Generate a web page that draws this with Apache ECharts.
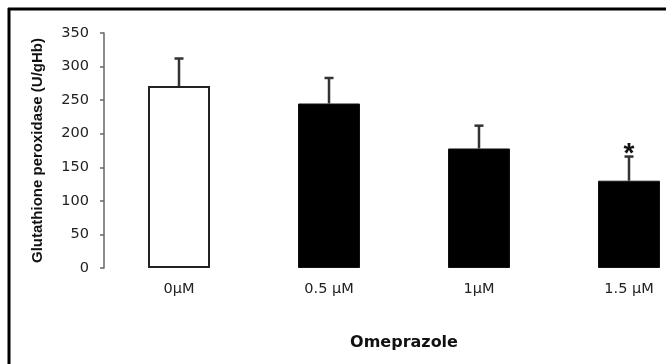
<!DOCTYPE html>
<html>
<head>
<meta charset="utf-8">
<script src="https://cdn.jsdelivr.net/npm/echarts@6/dist/echarts.min.js"></script>
<style>
html,body{margin:0;padding:0;background:#fff;}
#chart{width:666px;height:364px;}
</style>
</head>
<body>
<div id="chart"></div>
<script>
const categories = ['0μM', '0.5 μM', '1μM', '1.5 μM'];
const means = [271, 245, 178, 130];
const errors = [41, 38, 34, 36];
const significance = ['', '', '', '*'];
const yTicks = [0, 50, 100, 150, 200, 250, 300, 350];

const chart = echarts.init(document.getElementById('chart'), null, {renderer: 'canvas'});
const font = 'Liberation Sans, Arial, sans-serif';
const wideFont = 'DejaVu Sans, sans-serif';

const option = {
  animation: false,
  backgroundColor: '#fff',
  grid: {left: 104, right: -38, top: 33, bottom: 96, containLabel: false, outerBoundsMode: 'none'},
  xAxis: {
    type: 'category',
    data: categories,
    axisLine: {show: false},
    axisTick: {show: false},
    axisLabel: {color: '#222', fontSize: 14.5, fontFamily: wideFont, margin: 14},
    name: 'Omeprazole',
    nameLocation: 'middle',
    nameGap: 67,
    nameTextStyle: {color: '#111', fontSize: 16, fontWeight: 'bold', fontFamily: wideFont}
  },
  yAxis: {
    type: 'value',
    min: yTicks[0],
    max: yTicks[yTicks.length - 1],
    interval: 50,
    splitLine: {show: false},
    axisLine: {show: true, lineStyle: {color: '#666', width: 1.5}},
    axisTick: {show: true, length: 4, lineStyle: {color: '#666', width: 1.5}},
    axisLabel: {color: '#222', fontSize: 14.5, fontFamily: wideFont, margin: 15},
    name: 'Glutathione peroxidase (U/gHb)',
    nameLocation: 'middle',
    nameRotate: 90,
    nameGap: 59,
    nameTextStyle: {color: '#111', fontSize: 15, fontWeight: 'bold', fontFamily: font}
  },
  series: [
    {
      type: 'bar',
      barWidth: 62,
      data: means.map((v, i) => ({
        value: v,
        itemStyle: i === 0
          ? {color: '#fff', borderColor: '#222', borderWidth: 2}
          : {color: '#000', borderColor: '#111', borderWidth: 1}
      })),
      z: 2
    },
    {
      type: 'custom',
      z: 3,
      data: means.map((v, i) => [i, v, errors[i]]),
      renderItem: function (params, api) {
        const i = api.value(0);
        const m = api.value(1);
        const e = api.value(2);
        const sig = significance[i];
        const base = api.coord([i, m]);
        const top = api.coord([i, m + e]);
        const half = 4.5;
        const children = [
          {type: 'line', shape: {x1: base[0], y1: base[1], x2: top[0], y2: top[1]},
           style: {stroke: '#333', lineWidth: 2.5}},
          {type: 'line', shape: {x1: top[0] - half, y1: top[1], x2: top[0] + half, y2: top[1]},
           style: {stroke: '#333', lineWidth: 2.5}}
        ];
        if (sig) {
          children.push({type: 'text', style: {text: sig, x: top[0], y: top[1] + 12,
            fill: '#111', font: 'bold 28px ' + font, textAlign: 'center', textVerticalAlign: 'bottom'}});
        }
        return {type: 'group', children: children};
      }
    }
  ],
  graphic: [
    {type: 'line', shape: {x1: 8, y1: 9, x2: 666, y2: 9}, style: {stroke: '#000', lineWidth: 3}},
    {type: 'line', shape: {x1: 9, y1: 8, x2: 9, y2: 364}, style: {stroke: '#000', lineWidth: 3}}
  ]
};
chart.setOption(option);
</script>
</body>
</html>
